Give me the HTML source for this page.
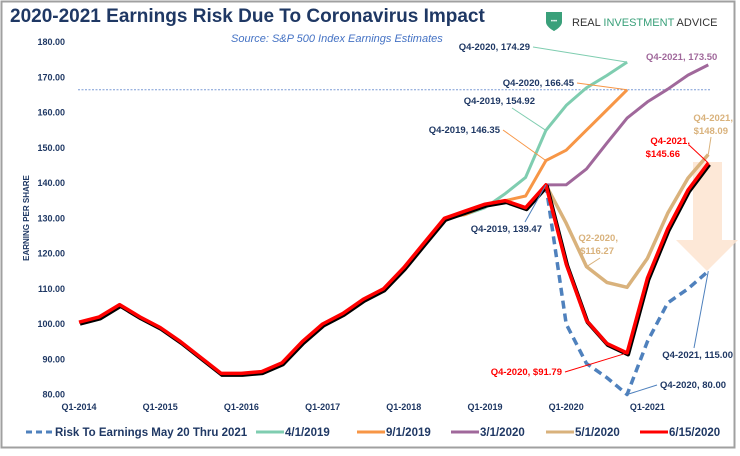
<!DOCTYPE html>
<html><head><meta charset="utf-8"><style>
body{margin:0;background:#fff;}
svg{display:block;font-family:"Liberation Sans",sans-serif;}
</style></head><body>
<svg width="740" height="456" viewBox="0 0 740 456">
<rect x="1.5" y="1.5" width="733" height="446" fill="#fff" stroke="#a0a0a0" stroke-width="2"/>
<text x="10" y="22" font-size="19" font-weight="bold" fill="#1f3864">2020-2021 Earnings Risk Due To Coronavirus Impact</text>
<text x="231" y="42" font-size="11" font-style="italic" fill="#4472c4">Source: S&amp;P 500 Index Earnings Estimates</text>
<g>
<path d="M546 12h16v10c0 5-8 9-8 9s-8-4-8-9z" fill="#3aa07a"/>
<text x="554" y="23" font-size="6" fill="#fff" text-anchor="middle">•••</text>
<text x="572" y="26" font-size="11" fill="#333">REAL <tspan fill="#3aa07a">INVESTMENT</tspan> ADVICE</text>
</g>
<text transform="translate(29,218) rotate(-90)" font-size="8" font-weight="bold" fill="#1f3864" text-anchor="middle">EARNING PER SHARE</text>
<g id="yaxis"></g>
<g id="xaxis"></g>
<g opacity="0.85">
<path d="M693 162h29v78h16l-31 31-31-31h17z" fill="#fde4d0"/>
</g>
<line id="refline" x1="78" x2="710" stroke="#4472c4" stroke-width="1" stroke-dasharray="2,1.5" opacity="0.7"/>
<g id="series"></g>
<g id="ann" font-size="9.5" font-weight="bold"></g>
<g id="legend" font-size="11.5" font-weight="bold" fill="#1f3864"></g>
</svg>
<script>
const yTicks=[80,90,100,110,120,130,140,150,160,170,180];
const xTickLabels=["Q1-2014","Q1-2015","Q1-2016","Q1-2017","Q1-2018","Q1-2019","Q1-2020","Q1-2021"];
const baseHist=[100.5,102,105.5,102,99,95,90.5,86,86,86.5,89,95,100,103,107,110,116,123,130,132,134,135,133,139.47];
const red2020=[117,101,94.5,91.79,113,127,138,145.66];
const dashed2020=[100,88.8,84.8,80,95,106,110,115];
const tan2020=[128.6,116.27,111.8,110.4,118.6,131.4,141.4,148.09];
const purple2020=[139.5,144,151.3,158.4,163,166.6,170.6,173.5];
const greenEst=[130,131,133,137,141.6,154.92,162,167,170.5,174.29];
const orangeEst=[130,131,133.5,135,136.3,146.35,149.3,155,160.7,166.45];
const refLevel=166.45;
const NS="http://www.w3.org/2000/svg";
const X=i=>79+i*20.3, Y=v=>394.5-(v-80)*3.525;
function mk(tag,attrs,parent){const e=document.createElementNS(NS,tag);for(const k in attrs)e.setAttribute(k,attrs[k]);document.getElementById(parent).appendChild(e);return e;}
yTicks.forEach(v=>{const t=mk('text',{x:65,y:Y(v)+3,'font-size':9,'font-weight':'bold',fill:'#1f3864','text-anchor':'end'},'yaxis');


t.textContent=v.toFixed(2);});
xTickLabels.forEach((l,k)=>{const t=mk('text',{x:X(k*4),y:410,'font-size':9,'font-weight':'bold',fill:'#1f3864','text-anchor':'middle'},'xaxis');


t.textContent=l;});
const rl=document.getElementById('refline');rl.setAttribute('y1',Y(refLevel));rl.setAttribute('y2',Y(refLevel));
function pts(vals,start){return vals.map((v,j)=>X(start+j).toFixed(1)+','+Y(v).toFixed(1)).join(' ');}
function line(vals,start,color,w,name,dash,parent){const p=mk('polyline',{points:pts(vals,start),fill:'none',stroke:color,'stroke-width':w,'stroke-linejoin':'round'},parent||'series');if(dash)p.setAttribute('stroke-dasharray',dash);

return p;}
const last=baseHist[baseHist.length-1];
line(greenEst,18,'#7fcdb0',3,'series-4-1-2019');
line(orangeEst,18,'#f79646',3,'series-9-1-2019');
line([last].concat(purple2020),23,'#a0689b',3,'series-3-1-2020');
line([last].concat(tan2020),23,'#d9b27c',3.5,'series-5-1-2020');
line([last].concat(dashed2020),23,'#4f81bd',3.5,'series-risk-dashed','8,5');
line(baseHist.concat(red2020),0,'#000',4,'series-6-15-2020-shadow').setAttribute('transform','translate(1,1.5)');
line(baseHist.concat(red2020),0,'#ff0000',3.5,'series-6-15-2020');
// [text, qIndex, value, textX, textY, textColor, leaderColor, anchor, leaderStartX, leaderStartY]
const anns=[
 ["Q4-2020, 174.29",27,greenEst[9],530,50,'#1f3864','#7fcdb0','end',533,47],
 ["Q4-2021,  173.50",31,purple2020[7],646,60,'#a0689b',null,'start'],
 ["Q4-2020,  166.45",27,orangeEst[9],574,86,'#1f3864','#f79646','end',577,83],
 ["Q4-2019, 154.92",23,greenEst[5],535,104,'#1f3864','#7fcdb0','end',512,108],
 ["Q4-2019,  146.35",23,orangeEst[5],500,133,'#1f3864','#f79646','end',503,130],
 ["Q4-2019,  139.47",23,last,542,232,'#1f3864','#4f81bd','end',525,222],
 ["Q4-2021,",31,tan2020[7],733,121,'#d9b27c',null,'end'],
 ["$148.09",31,tan2020[7],728,134,'#d9b27c','#d9b27c','end',711,137],
 ["Q4-2021,",31,red2020[7],690,144,'#ff0000','#ff0000','end',689,145],
 ["$145.66",31,red2020[7],680,157,'#ff0000',null,'end'],
 ["Q2-2020,",25,tan2020[1],618,241,'#d9b27c',null,'end'],
 ["$116.27",25,tan2020[1],614,254,'#d9b27c','#d9b27c','end',600,258],
 ["Q4-2021,  115.00",31,dashed2020[7],733,358,'#1f3864','#4f81bd','end',694,348],
 ["Q4-2020, $91.79",27,red2020[3],562,375,'#ff0000','#ff0000','end',565,372],
 ["Q4-2020,  80.00",27,dashed2020[3],660,388,'#1f3864','#4f81bd','start',657,385]];
anns.forEach(a=>{const t=mk('text',{x:a[3],y:a[4],fill:a[5],'text-anchor':a[7]},'ann');


t.textContent=a[0];
if(a[6]){const l=mk('line',{x1:a[8],y1:a[9],x2:X(a[1]),y2:Y(a[2]),stroke:a[6],'stroke-width':1},'ann');

}});
const legendItems=[["Risk To Earnings May 20 Thru 2021",'#4f81bd',true,26],["4/1/2019",'#7fcdb0',false,256],["9/1/2019",'#f79646',false,357],["3/1/2020",'#a0689b',false,451],["5/1/2020",'#d9b27c',false,546],["6/15/2020",'#ff0000',false,640]];
legendItems.forEach(it=>{const g=mk('g',{},'legend');


const l=document.createElementNS(NS,'line');l.setAttribute('x1',it[3]);l.setAttribute('x2',it[3]+28);l.setAttribute('y1',432);l.setAttribute('y2',432);l.setAttribute('stroke',it[1]);l.setAttribute('stroke-width',3);if(it[2])l.setAttribute('stroke-dasharray','6,4');g.appendChild(l);
const t=document.createElementNS(NS,'text');t.setAttribute('x',it[3]+29);t.setAttribute('y',436);t.textContent=it[0];g.appendChild(t);});
</script>
</body></html>
